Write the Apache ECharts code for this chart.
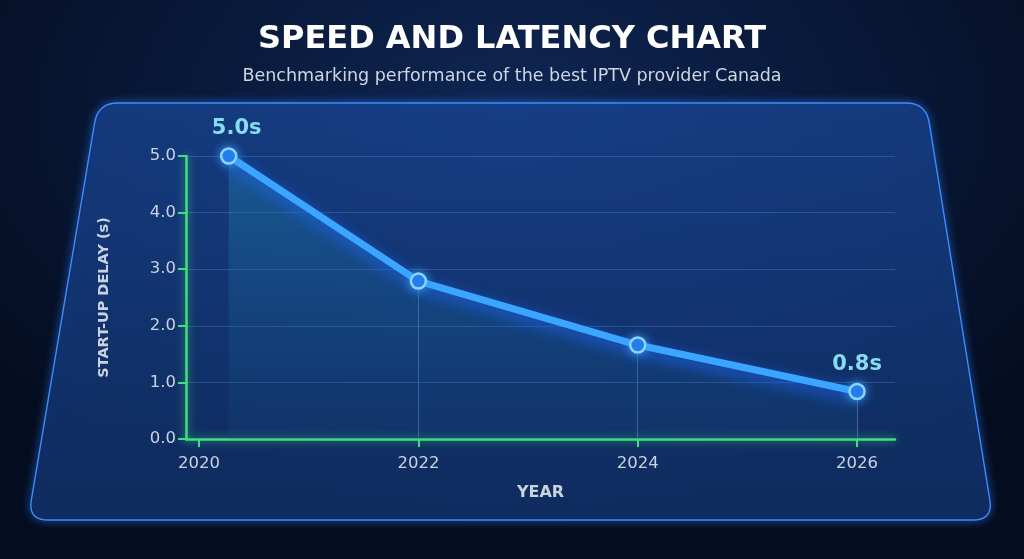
<!DOCTYPE html>
<html><head><meta charset="utf-8">
<script src="https://cdn.jsdelivr.net/npm/echarts@6/dist/echarts.min.js"></script>
<style>
html,body{margin:0;padding:0;width:1024px;height:559px;overflow:hidden;
background:radial-gradient(ellipse 65% 75% at 50% 20%, #0f2654 0%, #091a3b 45%, #050d20 100%);}
#c{width:1024px;height:559px;}
</style></head><body><div id="c"></div>
<script>
const years = [2020.27, 2022, 2024, 2026];
const delays = [5.0, 2.79, 1.66, 0.84];
const yearTicks = [2020, 2022, 2024, 2026];
const labelIdx = [0, 3];
const titleText = 'SPEED AND LATENCY CHART';
const subText = 'Benchmarking performance of the best IPTV provider Canada';
const yName = 'START-UP DELAY (s)';
const xName = 'YEAR';

// decorative panel outline (trapezoid with rounded corners)
function roundedPoly(verts, r){
  const out=[];
  const n=verts.length;
  for(let i=0;i<n;i++){
    const p=verts[(i-1+n)%n], v=verts[i], q=verts[(i+1)%n];
    const d1=[p[0]-v[0],p[1]-v[1]], d2=[q[0]-v[0],q[1]-v[1]];
    const l1=Math.hypot(d1[0],d1[1]), l2=Math.hypot(d2[0],d2[1]);
    const a=[v[0]+d1[0]/l1*r, v[1]+d1[1]/l1*r], b=[v[0]+d2[0]/l2*r, v[1]+d2[1]/l2*r];
    for(let t=0;t<=1.0001;t+=0.1){
      const u=1-t;
      out.push([u*u*a[0]+2*u*t*v[0]+t*t*b[0], u*u*a[1]+2*u*t*v[1]+t*t*b[1]]);
    }
  }
  return out;
}
const panelPts = roundedPoly([[98,103],[926,103],[993,520],[28,520]], 20);

const green = '#41e07e';
const font = 'DejaVu Sans';
const chart = echarts.init(document.getElementById('c'), null, {renderer:'canvas'});
const pts = years.map((x,i)=>({
  value:[x, delays[i]],
  label:{show: labelIdx.includes(i), offset: i===0 ? [8,2] : [0,2]}
}));
const drops = years.slice(1).map((x,i)=>[{coord:[x, delays[i+1]]},{coord:[x,0]}]);

chart.setOption({
  backgroundColor:'transparent',
  title:{text:titleText, subtext:subText, left:'center', top:19, itemGap:11,
    textStyle:{color:'#ffffff', fontFamily:font, fontWeight:'bold', fontSize:32},
    subtextStyle:{color:'#cdd6e4', fontFamily:font, fontSize:17.5}},
  graphic:[{type:'polygon', z:-10, silent:true,
    shape:{points:panelPts},
    style:{fill:{type:'linear',x:0,y:0,x2:0,y2:1,colorStops:[{offset:0,color:'rgba(16,50,115,0.5)'},{offset:1,color:'rgba(8,26,64,0.55)'}]},
      stroke:'#3d8cff', lineWidth:1.4, shadowBlur:10, shadowColor:'rgba(50,130,255,0.8)'}}],
  grid:{left:186, right:129, top:156, bottom:120},
  xAxis:{type:'value', min:2019.881, max:2026.346,
    name:xName, nameLocation:'middle', nameGap:46,
    nameTextStyle:{color:'#c9d3e0', fontFamily:font, fontWeight:'bold', fontSize:16},
    axisLine:{show:true, lineStyle:{color:green, width:2.5, shadowBlur:8, shadowColor:'rgba(65,224,126,0.8)'}},
    axisTick:{show:true, customValues:yearTicks, length:8, lineStyle:{color:green, width:2}},
    axisLabel:{customValues:yearTicks, color:'#c9d3e0', fontFamily:font, fontSize:16.5, margin:16, formatter:v=>String(v)},
    splitLine:{show:false}},
  yAxis:{type:'value', min:0, max:5, interval:1,
    name:yName, nameLocation:'middle', nameGap:74,
    nameTextStyle:{color:'#c9d3e0', fontFamily:font, fontWeight:'bold', fontSize:14.5},
    axisLine:{show:true, lineStyle:{color:green, width:2.5, shadowBlur:8, shadowColor:'rgba(65,224,126,0.8)'}},
    axisTick:{show:true, length:8, lineStyle:{color:green, width:2}},
    axisLabel:{color:'#c9d3e0', fontFamily:font, fontSize:16.5, margin:10, formatter:v=>v.toFixed(1)},
    splitLine:{show:true, lineStyle:{color:'rgba(70,120,190,0.45)', width:1}}},
  series:[{type:'line', data:pts, z:5,
    symbol:'circle', symbolSize:15,
    itemStyle:{color:'#1f73e8', borderColor:'#86d6ff', borderWidth:2.5, shadowBlur:10, shadowColor:'rgba(60,160,255,0.9)'},
    lineStyle:{color:'#3aa6ff', width:7, shadowBlur:14, shadowColor:'rgba(30,100,240,0.95)', shadowOffsetY:5},
    areaStyle:{color:{type:'linear',x:0,y:0,x2:0,y2:1,colorStops:[{offset:0,color:'rgba(40,150,190,0.5)'},{offset:1,color:'rgba(20,90,140,0.18)'}]}},
    label:{position:'top', distance:10, color:'#86dcf2', fontFamily:font, fontWeight:'bold', fontSize:21,
      formatter:p=>p.value[1].toFixed(1)+'s'},
    markLine:{silent:true, symbol:'none', label:{show:false},
      lineStyle:{color:'rgba(110,170,230,0.45)', width:1, type:'solid'}, data:drops}
  }]
});
</script></body></html>
